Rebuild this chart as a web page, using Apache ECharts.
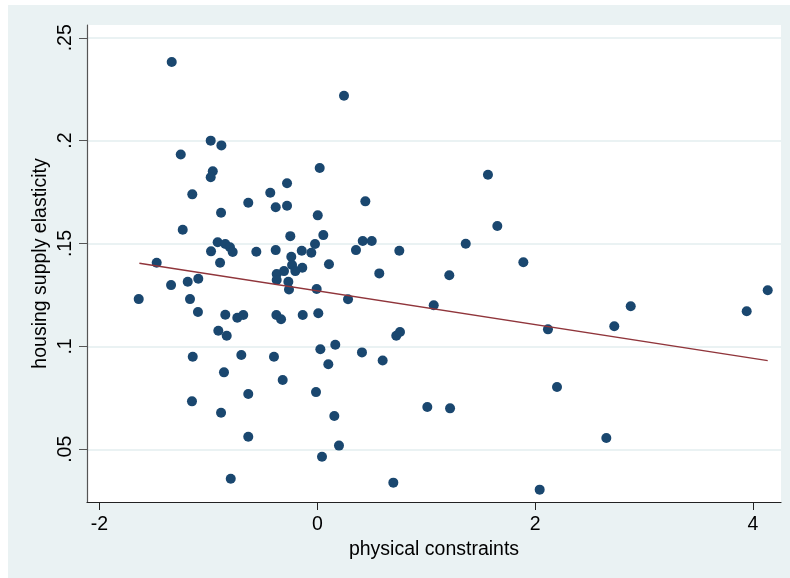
<!DOCTYPE html>
<html>
<head>
<meta charset="utf-8">
<script src="https://cdn.jsdelivr.net/npm/echarts@6/dist/echarts.min.js"></script>
<style>
  html, body { margin: 0; padding: 0; background: #fff; }
  #chart { position: absolute; left: 8px; top: 5px; width: 782px; height: 573px; }
</style>
</head>
<body>
<div id="chart"></div>
<script>
// physical constraints (x) vs housing supply elasticity (y)
var xVals = [
  -1.337, -0.979, -0.881, -1.254, -0.960, -0.979, -1.148, -0.432, -0.634, -0.382,
  -0.884, -1.236, -0.915, -0.845, -0.802, -0.777, -0.976, -0.560, -0.382, -0.893,
  -1.475, -0.373, -1.093, -1.190, -1.343, -1.640, -1.169, -1.096, -0.845, -0.735,
  -0.680, -0.376, -0.909, -0.832, -1.144, -0.698, -0.398, -0.857, -1.151, -0.634,
  -0.884, -0.634, -0.795, -0.318, 0.245, 0.022, -0.278, 0.441, -0.278, 0.004,
  -0.248, 0.055, -0.143, -0.021, -0.055, 0.417, 0.500, 0.355, 0.753, -0.239,
  -0.232, -0.138, -0.202, -0.306, -0.373, -0.266, -0.260, 0.107, -0.006, 0.569,
  1.212, 0.282, 1.069, -0.333, -0.134, 0.009, 0.725, 0.759, 0.028, 0.165,
  0.410, 0.101, 0.600, -0.012, 0.156, 0.199, 0.043, 0.698, 1.010, 1.219,
  1.567, 1.653, 1.363, 1.892, 2.118, 2.727, 2.878, 3.943, 4.136, 2.201,
  2.654, 2.042
];
var yVals = [
  0.2382, 0.2000, 0.1977, 0.1933, 0.1851, 0.1822, 0.1739, 0.1747, 0.1698, 0.1676,
  0.1650, 0.1567, 0.1506, 0.1498, 0.1482, 0.1459, 0.1462, 0.1460, 0.1468, 0.1407,
  0.1407, 0.1352, 0.1329, 0.1314, 0.1298, 0.1230, 0.1230, 0.1167, 0.1154, 0.1139,
  0.1153, 0.1153, 0.1076, 0.1052, 0.0950, 0.0958, 0.0950, 0.0874, 0.0733, 0.0769,
  0.0678, 0.0561, 0.0357, 0.0837, 0.2218, 0.1867, 0.1793, 0.1705, 0.1684, 0.1637,
  0.1536, 0.1541, 0.1465, 0.1498, 0.1455, 0.1512, 0.1512, 0.1468, 0.1465, 0.1436,
  0.1396, 0.1382, 0.1366, 0.1366, 0.1323, 0.1314, 0.1277, 0.1399, 0.1279, 0.1355,
  0.1346, 0.1229, 0.1200, 0.1132, 0.1153, 0.1161, 0.1052, 0.1070, 0.0986, 0.1008,
  0.0971, 0.0913, 0.0932, 0.0778, 0.0662, 0.0518, 0.0464, 0.0338, 0.0706, 0.0699,
  0.1834, 0.1585, 0.1499, 0.1409, 0.1083, 0.1098, 0.1195, 0.1171, 0.1273, 0.0803,
  0.0555, 0.0304
];
// fitted line end points
var fitX = [-1.634, 4.136];
var fitY = [0.1404, 0.0931];

var xTicks = [-2, 0, 2, 4];
var yTicks = [0.05, 0.1, 0.15, 0.2, 0.25];
var yTickLabels = [".05", ".1", ".15", ".2", ".25"];

var points = xVals.map(function (x, i) { return [x, yVals[i]]; });
var fitLine = fitX.map(function (x, i) { return [x, fitY[i]]; });

var myChart = echarts.init(document.getElementById("chart"));
var font = "'Liberation Sans', Arial, sans-serif";

var option = {
  animation: false,
  backgroundColor: "#EAF2F3",
  textStyle: { fontFamily: font },
  grid: {
    left: 79,
    right: 9,
    top: 20,
    bottom: 76,
    show: true,
    backgroundColor: "#fff",
    borderWidth: 0
  },
  xAxis: {
    type: "value",
    min: -2.115,
    max: 4.258,
    name: "physical constraints",
    nameLocation: "middle",
    nameGap: 28,
    nameTextStyle: { color: "#000", fontSize: 19.5, fontFamily: font },
    axisLine: { show: true, onZero: false, lineStyle: { color: "#222", width: 1.2 } },
    axisTick: { show: true, length: 8, customValues: xTicks, lineStyle: { color: "#222" } },
    axisLabel: {
      customValues: xTicks,
      color: "#000",
      fontSize: 19.5,
      margin: 13,
      fontFamily: font
    },
    splitLine: { show: false }
  },
  yAxis: {
    type: "value",
    min: 0.0244,
    max: 0.2562,
    name: "housing supply elasticity",
    nameLocation: "middle",
    nameGap: 36,
    nameMoveOverlap: false,
    nameTextStyle: { color: "#000", fontSize: 19.5, fontFamily: font },
    axisLine: { show: true, onZero: false, lineStyle: { color: "#555", width: 1.2 } },
    axisTick: { show: true, length: 8, customValues: yTicks, lineStyle: { color: "#555" } },
    axisLabel: {
      customValues: yTicks,
      rotate: 90,
      color: "#000",
      fontSize: 19.5,
      margin: 11,
      fontFamily: font,
      formatter: function (v) {
        var i = yTicks.findIndex(function (t) { return Math.abs(t - v) < 1e-9; });
        return i >= 0 ? yTickLabels[i] : "";
      }
    },
    splitLine: { show: true, lineStyle: { color: "#EAF2F3", width: 2 } }
  },
  series: [
    {
      type: "scatter",
      data: points,
      symbolSize: 10,
      itemStyle: { color: "#1A476F", opacity: 1 }
    },
    {
      type: "line",
      data: fitLine,
      symbol: "none",
      lineStyle: { color: "#90353B", width: 1.5 }
    }
  ]
};
option && myChart.setOption(option);
</script>
</body>
</html>
